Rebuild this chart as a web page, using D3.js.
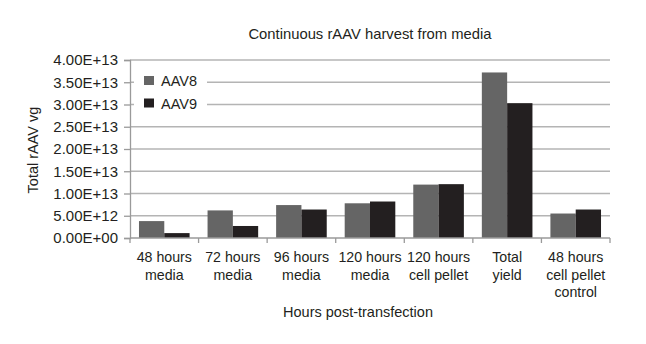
<!DOCTYPE html>
<html><head><meta charset="utf-8">
<script src="https://cdn.jsdelivr.net/npm/d3@7"></script>
<style>
body{margin:0;background:#fff;}
text{font-family:"Liberation Sans",Arial,Helvetica,sans-serif;fill:#231f20;}
</style></head>
<body><svg id="c" width="646" height="344"></svg>
<script>
const categories = [["48 hours","media"],["72 hours","media"],["96 hours","media"],["120 hours","media"],["120 hours","cell pellet"],["Total","yield"],["48 hours","cell pellet","control"]];
const seriesNames = ["AAV8","AAV9"];
const aav8 = [3.8e12, 6.2e12, 7.4e12, 7.8e12, 1.2e13, 3.72e13, 5.5e12];
const aav9 = [1.1e12, 2.7e12, 6.4e12, 8.2e12, 1.21e13, 3.03e13, 6.4e12];
const yTicks = [0, 5e12, 1e13, 1.5e13, 2e13, 2.5e13, 3e13, 3.5e13, 4e13];
const yTickLabels = ["0.00E+00","5.00E+12","1.00E+13","1.50E+13","2.00E+13","2.50E+13","3.00E+13","3.50E+13","4.00E+13"];
const colors = ["#656565","#231f20"];

const svg = d3.select("#c");
const L=130, R=610, T=60, B=238;
const x = d3.scaleBand().domain(d3.range(categories.length)).range([L,R]).paddingInner(0).paddingOuter(0);
const xs = d3.scaleBand().domain([0,1]).range([0, x.bandwidth()]).paddingInner(0).paddingOuter(0.355);
const y = d3.scaleLinear().domain([0,4e13]).range([B,T]);

// gridlines
svg.append("g").selectAll("line").data(yTicks.slice(1)).join("line")
  .attr("x1",L).attr("x2",R).attr("y1",d=>y(d)).attr("y2",d=>y(d))
  .attr("stroke","#b4b4b4").attr("stroke-width",1.6);

// y axis
const yAxis = d3.axisLeft(y).tickValues(yTicks).tickFormat((d,i)=>yTickLabels[i]).tickSize(6).tickPadding(6);
const gy = svg.append("g").attr("transform",`translate(${L},0)`).call(yAxis);
gy.select(".domain").attr("stroke","#9a9a9a").attr("stroke-width",1.3);
gy.selectAll(".tick line").attr("stroke","#9a9a9a").attr("stroke-width",1.3);
gy.selectAll(".tick text").attr("font-size",15).attr("fill","#231f20").attr("font-family","Liberation Sans, Arial, sans-serif");

// bars
const series = [aav8, aav9];
series.forEach((vals,s)=>{
  svg.append("g").selectAll("rect").data(vals).join("rect")
    .attr("x",(d,i)=>x(i)+xs(s)).attr("width",xs.bandwidth())
    .attr("y",d=>y(d)).attr("height",d=>B-y(d))
    .attr("fill",colors[s]);
});

// x axis
svg.append("line").attr("x1",L).attr("x2",R).attr("y1",B).attr("y2",B).attr("stroke","#9a9a9a").attr("stroke-width",1.3);
svg.append("g").selectAll("line").data(d3.range(categories.length+1)).join("line")
  .attr("x1",i=>L+i*x.step()).attr("x2",i=>L+i*x.step())
  .attr("y1",B).attr("y2",B+5).attr("stroke","#9a9a9a").attr("stroke-width",1.3);

const xl = svg.append("g");
categories.forEach((lines,i)=>{
  const t = xl.append("text").attr("text-anchor","middle").attr("font-size",14.2)
    .attr("x",x(i)+x.bandwidth()/2).attr("y",262);
  lines.forEach((ln,j)=>t.append("tspan").attr("x",x(i)+x.bandwidth()/2).attr("y",262+j*17.5).text(ln));
});

// legend
svg.append("rect").attr("x",134).attr("y",68).attr("width",73).attr("height",48).attr("fill","#fff");
seriesNames.forEach((n,i)=>{
  svg.append("rect").attr("x",144).attr("y",76+i*22.5).attr("width",10).attr("height",9).attr("fill",colors[i]);
  svg.append("text").attr("x",161).attr("y",86+i*22.5).attr("font-size",14.5).text(n);
});

// titles
svg.append("text").attr("x",370).attr("y",39).attr("text-anchor","middle").attr("font-size",14.8).text("Continuous rAAV harvest from media");
svg.append("text").attr("x",358).attr("y",317).attr("text-anchor","middle").attr("font-size",14.5).text("Hours post-transfection");
svg.append("text").attr("transform","translate(38,150) rotate(-90)").attr("text-anchor","middle").attr("font-size",14.5).text("Total rAAV vg");
</script></body></html>
